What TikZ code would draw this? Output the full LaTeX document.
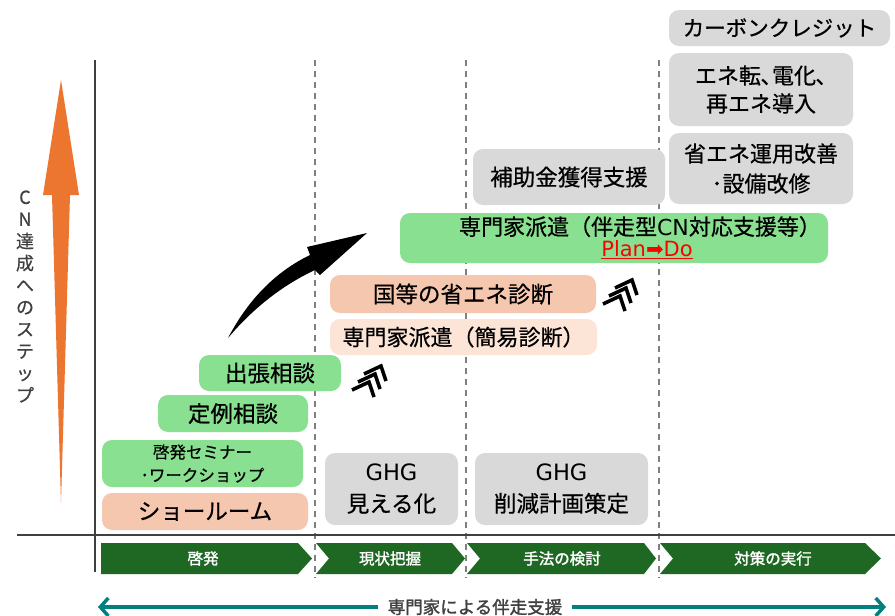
\documentclass[tikz,border=0pt]{standalone}
\usepackage{fontspec}
\setmainfont{Noto Sans CJK JP}[FakeBold=0.6]
\newfontfamily\dejavu{DejaVu Sans}
\newfontfamily\heavy{Noto Sans CJK JP}[FakeBold=1.6]
\usetikzlibrary{arrows.meta}
\newcommand\fsz[2]{\fontsize{#1}{#2}\selectfont}
\newcommand\lat[1]{{\dejavu #1}}
\definecolor{lgreen}{RGB}{136,224,144}
\definecolor{peach}{RGB}{246,199,175}
\definecolor{lpeach}{RGB}{252,228,214}
\definecolor{lgray}{RGB}{217,217,217}
\definecolor{dgreen}{RGB}{30,104,36}
\definecolor{tealc}{RGB}{0,128,128}
\definecolor{orng}{RGB}{236,118,48}
\definecolor{axisc}{RGB}{64,64,64}
\definecolor{dashc}{RGB}{128,128,128}
\tikzset{
  box/.style={rounded corners=10pt, inner sep=0pt, align=center, text=black, font=\fsz{22.5}{28}},
  gbox/.style={box, fill=lgreen},
  pbox/.style={box, fill=peach},
  lpbox/.style={box, fill=lpeach},
  graybox/.style={box, fill=lgray},
  phase/.style={fill=dgreen},
  phasetext/.style={text=white, font=\heavy\fsz{15.5}{17}},
  vdash/.style={dashc, line width=1.3pt, dash pattern=on 6pt off 5pt},
  axisline/.style={axisc, line width=2pt},
  chev/.style={line width=3.6pt, line join=miter, line cap=butt},
}
\begin{document}
\begin{tikzpicture}[x=1pt,y=-1pt]
\fill[white] (0,0) rectangle (895,616);
\useasboundingbox (0,0) rectangle (895,616);

% dashed phase separators
\draw[vdash] (315,60) -- (315,578);
\draw[vdash] (466,60) -- (466,578);
\draw[vdash] (659,60) -- (659,578);

% axes
\draw[axisline] (95,60) -- (95,572);
\draw[axisline] (17,535) -- (895,535);

% orange step arrow
\fill[orng] (61,80) -- (79,195) -- (70,195) -- (61,503) -- (52,195) -- (43,195) -- cycle;
\node[text=axisc, align=center, font=\fsz{18}{22}] (cnlabel) at (25,296.5)
  {C\\N\\達\\成\\へ\\の\\ス\\テ\\ッ\\プ};

% boxes
\node[gbox, minimum width=142pt, minimum height=36pt] (shutcho) at (270,373) {出張相談};
\node[gbox, minimum width=150pt, minimum height=37pt] (teirei) at (233,413.5) {定例相談};
\node[gbox, minimum width=201pt, minimum height=47pt, font=\fsz{16.5}{23}] (seminar) at (202.5,463.5) {啓発セミナー\\･ワークショップ};
\node[pbox, minimum width=206pt, minimum height=37pt] (showroom) at (205,511.5) {ショールーム};
\node[graybox, minimum width=133pt, minimum height=72pt, font=\fsz{22.5}{31}] (ghg1) at (391.5,489) {\lat{GHG}\\見える化};
\node[graybox, minimum width=173pt, minimum height=72pt, font=\fsz{22.5}{31}] (ghg2) at (561.5,489) {\lat{GHG}\\削減計画策定};
\node[lpbox, minimum width=267pt, minimum height=36pt, font=\fsz{22}{26}] (kani) at (463.5,337) {専門家派遣（簡易診断）};
\node[pbox, minimum width=266pt, minimum height=38pt] (shoene) at (463,294) {国等の省エネ診断};
\node[gbox, minimum width=428pt, minimum height=50pt] (banso) at (614,238) {};
\node[anchor=base, font=\fsz{22}{26}] (bansotext) at (640,235) {専門家派遣（伴走型\lat{CN}対応支援等）};
\node[anchor=base, text=red, font=\fsz{21}{24}] (plando) at (647,256) {\underline{\dejavu Plan➡Do}};
\node[graybox, minimum width=192pt, minimum height=56pt] (hojo) at (569,177) {補助金獲得支援};
\node[graybox, minimum width=221pt, minimum height=36pt, font=\fsz{21.5}{26}] (credit) at (779.5,28) {カーボンクレジット};
\node[graybox, minimum width=184pt, minimum height=73pt, font=\fsz{22}{28}] (enetem) at (761,89.5) {エネ転､電化､\\再エネ導入};
\node[graybox, minimum width=184pt, minimum height=71pt, font=\fsz{22}{30}] (unyou) at (761,168.5) {省エネ運用改善\\･設備改修};

% black curved arrow
\fill[black] (228,338) .. controls (248,300) and (275,272) .. (310,255)
  -- (307,247) -- (367,233) -- (320,275) -- (315,270)
  .. controls (285,284) and (255,306) .. (228,338) -- cycle;

% triple chevron icons
\begin{scope}
\foreach \k in {0,1,2}
  \draw[chev] ({364-6*\k},{374+8*\k}) -- ({381-6*\k},{366+8*\k}) -- ({386-6*\k},{381+8*\k});
\end{scope}
\begin{scope}[shift={(251,-86)}]
\foreach \k in {0,1,2}
  \draw[chev] ({364-6*\k},{374+8*\k}) -- ({381-6*\k},{366+8*\k}) -- ({386-6*\k},{381+8*\k});
\end{scope}

% phase chevrons
\fill[phase] (101,543) -- (298,543) -- (312,558.5) -- (298,574) -- (101,574) -- cycle;
\fill[phase] (316,543) -- (452,543) -- (465,558.5) -- (452,574) -- (316,574) -- (329,558.5) -- cycle;
\fill[phase] (467,543) -- (644,543) -- (656,558.5) -- (644,574) -- (467,574) -- (480,558.5) -- cycle;
\fill[phase] (660,543) -- (865,543) -- (881,558.5) -- (865,574) -- (660,574) -- (673,558.5) -- cycle;
\node[phasetext] (ph1) at (203,558.5) {啓発};
\node[phasetext] (ph2) at (390,558.5) {現状把握};
\node[phasetext] (ph3) at (562,558.5) {手法の検討};
\node[phasetext] (ph4) at (773,558.5) {対策の実行};

% bottom support arrow
\coordinate (tl) at (98,607);
\coordinate (tr) at (886,607);
\node[text=axisc, font=\heavy\fsz{17.5}{20}, inner xsep=10pt] (support) at (475,607) {専門家による伴走支援};
\draw[tealc, line width=3.5pt, -{Straight Barb[length=8pt,width=18pt]}] (support.west) -- (tl);
\draw[tealc, line width=3.5pt, -{Straight Barb[length=8pt,width=18pt]}] (support.east) -- (tr);
\end{tikzpicture}
\end{document}
